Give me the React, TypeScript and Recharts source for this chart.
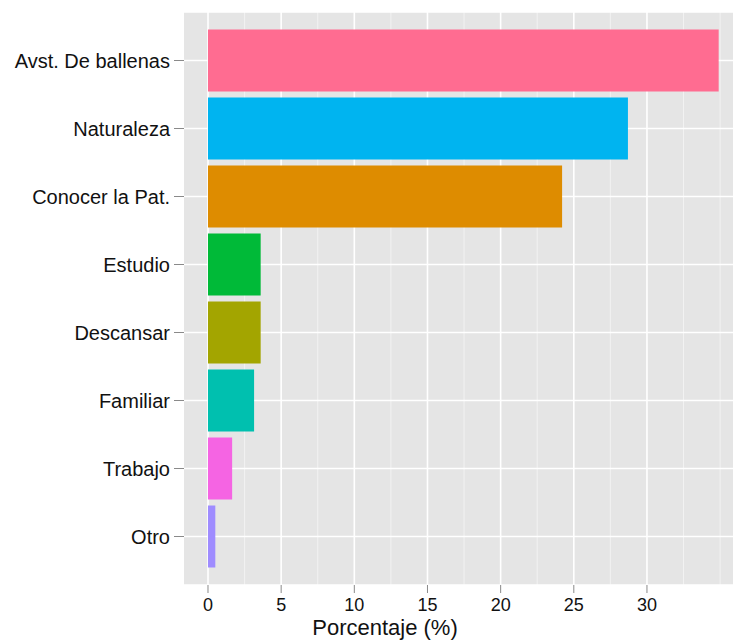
import React from 'react';
import { BarChart, Bar, XAxis, YAxis, CartesianGrid, Cell } from 'recharts';

const categories = [
  'Avst. De ballenas',
  'Naturaleza',
  'Conocer la Pat.',
  'Estudio',
  'Descansar',
  'Familiar',
  'Trabajo',
  'Otro',
];
const percentages = [34.9, 28.7, 24.2, 3.6, 3.6, 3.15, 1.65, 0.5];
const barColors = ['#FF6C91', '#00B4F0', '#DE8C00', '#00BA38', '#A3A500', '#00C0AF', '#F564E3', '#9F8CFF'];
const majorTicks = [0, 5, 10, 15, 20, 25, 30];
const minorLines = [2.5, 7.5, 12.5, 17.5, 22.5, 27.5, 32.5, 35];

const data = categories.map((name, i) => ({ name, value: percentages[i] }));

const FONT = '"Liberation Sans", Arial, Helvetica, sans-serif';

export default function App() {
  return (
    <div style={{ position: 'absolute', left: 0, top: 0, width: 733, height: 641, background: '#fff', fontFamily: FONT }}>
      <BarChart
        width={733}
        height={641}
        data={data}
        layout="vertical"
        margin={{ top: 12, right: 0, bottom: 0, left: 0 }}
        barCategoryGap={3}
      >
        <CartesianGrid
          fill="#E5E5E5"
          stroke="#F2F2F2"
          strokeWidth={1}
          horizontal={false}
          verticalValues={minorLines}
        />
        <CartesianGrid
          stroke="#FFFFFF"
          strokeWidth={1.6}
          verticalValues={majorTicks}
        />
        <XAxis
          type="number"
          domain={[-1.64, 35.88]}
          allowDataOverflow
          ticks={majorTicks}
          axisLine={false}
          tickSize={8}
          tickMargin={5}
          height={56}
          tickLine={{ stroke: '#8A8A8A', strokeWidth: 1 }}
          tick={{ fill: '#111', fontSize: 18, fontFamily: FONT }}
        />
        <YAxis
          type="category"
          dataKey="name"
          width={184}
          axisLine={false}
          tickSize={10}
          tickMargin={4}
          padding={{ top: 14.5, bottom: 14.5 }}
          tickLine={{ stroke: '#8A8A8A', strokeWidth: 1 }}
          tick={{ fill: '#111', fontSize: 20, fontFamily: FONT }}
          interval={0}
        />
        <Bar dataKey="value" isAnimationActive={false}>
          {data.map((d, i) => (
            <Cell key={d.name} fill={barColors[i]} />
          ))}
        </Bar>
      </BarChart>
      <div
        style={{
          position: 'absolute',
          left: 385,
          top: 616,
          transform: 'translateX(-50%)',
          fontSize: 22,
          color: '#111',
          whiteSpace: 'nowrap',
          lineHeight: '24px',
        }}
      >
        Porcentaje (%)
      </div>
    </div>
  );
}
